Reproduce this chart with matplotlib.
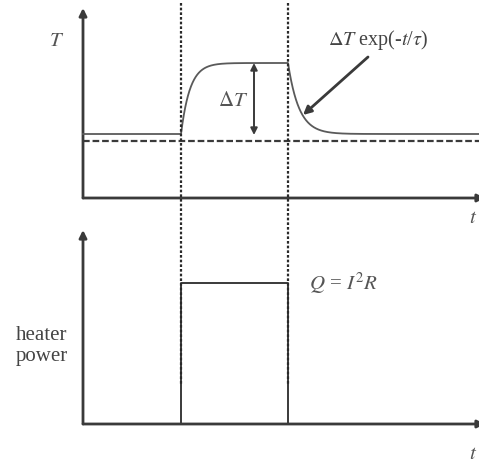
import numpy as np
import matplotlib
matplotlib.use("Agg")
import matplotlib.pyplot as plt
from matplotlib.patches import FancyArrowPatch
from matplotlib.lines import Line2D
import matplotlib.transforms as mtrans

# ---- schematic parameters (time and temperature in arbitrary units) ----
t_on = 0.98          # heater switched on
t_off = 2.05         # heater switched off
t_end = 3.96
T_ambient = 0.57     # dashed reference level
T_base = 0.64        # steady temperature before heating
delta_T = 0.71       # temperature rise at steady state
tau_rise = 0.09
tau_fall = 0.11
Q_level = 1.41       # heater power Q = I^2 R

t = np.linspace(0, t_end, 2000)
T = np.full_like(t, T_base)
heating = (t >= t_on) & (t < t_off)
T[heating] = T_base + delta_T * (1 - np.exp(-(t[heating] - t_on) / tau_rise))
T_top = T_base + delta_T * (1 - np.exp(-(t_off - t_on) / tau_rise))
cooling = t >= t_off
T[cooling] = T_base + (T_top - T_base) * np.exp(-(t[cooling] - t_off) / tau_fall)

power_t = [0, t_on, t_on, t_off, t_off, t_end]
power_q = [0, 0, Q_level, Q_level, 0, 0]

W, H = 479, 462
fig = plt.figure(figsize=(W / 100, H / 100), dpi=100)
fig.patch.set_facecolor("white")

serif = ["Liberation Serif", "DejaVu Serif"]
ink = "#3a3a3a"
curve_c = "#5a5a5a"

ax_top = fig.add_axes([83 / W, (H - 198) / H, 396 / W, 190 / H])
ax_bot = fig.add_axes([83 / W, (H - 424) / H, 396 / W, 194 / H])
for ax, ytop in ((ax_top, 1.9), (ax_bot, 1.94)):
    ax.set_xlim(0, t_end)
    ax.set_ylim(0, ytop)
    ax.axis("off")
    # axes with arrowheads
    ax.add_patch(FancyArrowPatch((0, 0), (0, ytop), arrowstyle="-|>", mutation_scale=11,
                                 color=ink, lw=2.0, clip_on=False, shrinkA=0, shrinkB=0))
    ax.add_patch(FancyArrowPatch((0, 0), (t_end + 0.06, 0), arrowstyle="-|>", mutation_scale=11,
                                 color=ink, lw=2.0, clip_on=False, shrinkA=0, shrinkB=0))

# temperature panel
ax_top.plot(t, T, color=curve_c, lw=1.3, clip_on=False)
ax_top.plot([0, t_end], [T_ambient, T_ambient], color=ink, lw=1.6,
            dashes=(3.0, 1.3), clip_on=False)
ax_top.add_patch(FancyArrowPatch((t_on + 0.73, T_base + delta_T), (t_on + 0.73, T_base - 0.01),
                                 arrowstyle="<|-|>", mutation_scale=10, color=ink, lw=1.4,
                                 shrinkA=0, shrinkB=0))
ax_top.text(t_on + 0.52, T_base + 0.34, r"$\Delta T$", fontsize=15, color="#555555",
            ha="center", va="center", math_fontfamily="stix")
ax_top.annotate("", xy=(t_off + 0.15, T_base + 0.19), xytext=(t_off + 0.80, T_base + 0.77),
                arrowprops=dict(arrowstyle="-|>", color=ink, lw=2.0, mutation_scale=12,
                                shrinkA=0, shrinkB=0))
ax_top.text(t_off + 0.90, 1.58, r"$\Delta T$ exp(-$t$/$\tau$)", fontsize=14.5, color="#444444",
            ha="center", va="center", family=serif, math_fontfamily="stix")
ax_top.text(-0.26, 1.58, "$T$", fontsize=15, color="#555555", ha="center", va="center",
            math_fontfamily="stix")
ax_top.text(3.9, -0.19, "$t$", fontsize=15, color="#555555", ha="center", va="center",
            math_fontfamily="stix")

# heater power panel
ax_bot.plot(power_t, power_q, color=ink, lw=1.4, clip_on=False)
ax_bot.text(t_off + 0.21, Q_level, r"$Q$ = $I^2R$", fontsize=15, color="#555555",
            ha="left", va="center", family=serif, math_fontfamily="stix")
ax_bot.text(-0.41, 0.78, "heater\npower", fontsize=15, color="#444444", ha="center",
            va="center", family=serif, linespacing=1.1)
ax_bot.text(3.9, -0.29, "$t$", fontsize=15, color="#555555", ha="center", va="center",
            math_fontfamily="stix")

# dotted markers of switch-on / switch-off spanning both panels
tr = mtrans.blended_transform_factory(ax_top.transData, fig.transFigure)
for tx in (t_on, t_off):
    fig.add_artist(Line2D([tx, tx], [1 - 3 / H, 1 - 385 / H], transform=tr, color="#2a2a2a",
                          lw=1.6, dashes=(1.2, 0.9)))

fig.savefig("out.png", dpi=100, facecolor="white")
